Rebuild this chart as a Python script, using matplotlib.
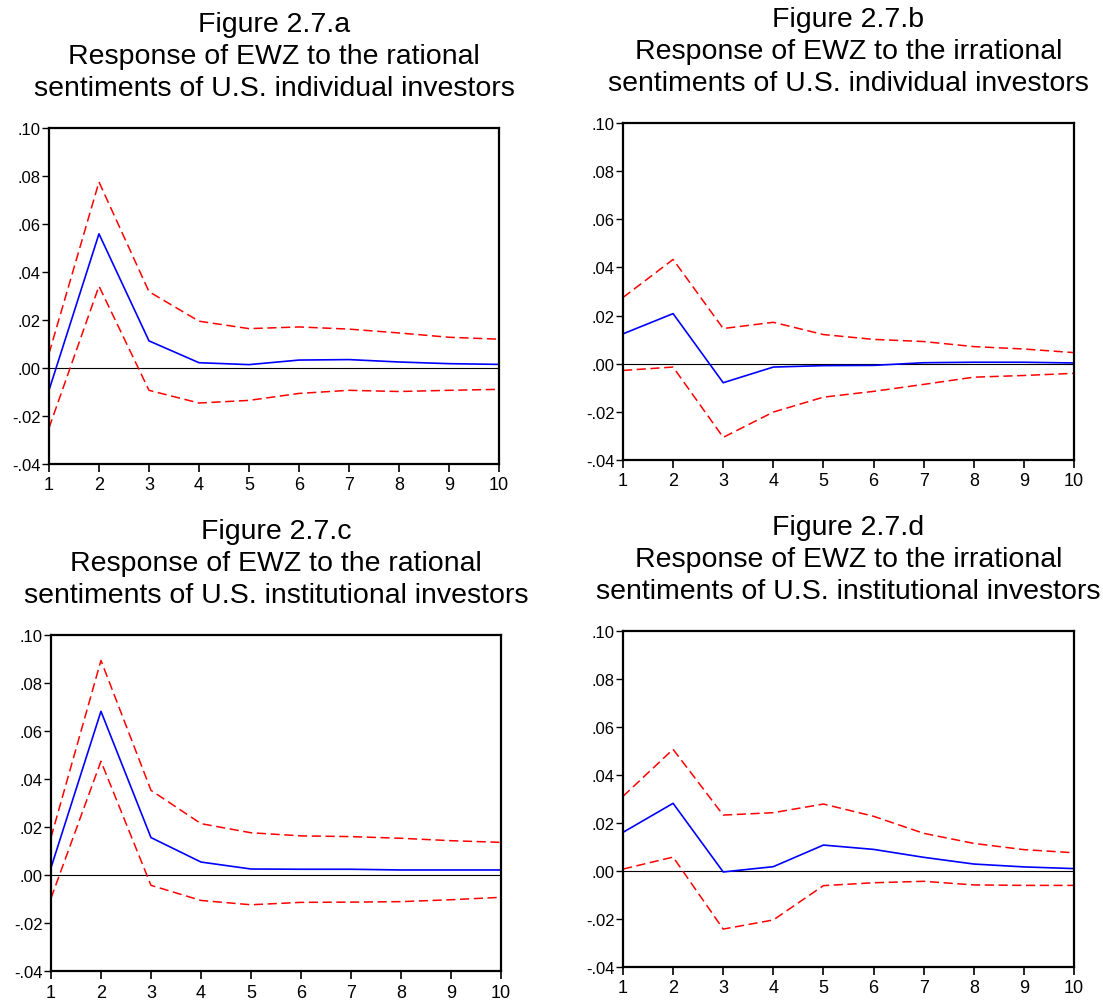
import numpy as np
import matplotlib
matplotlib.use("Agg")
import matplotlib.pyplot as plt

plt.rcParams['font.family'] = ['Liberation Sans', 'DejaVu Sans']

periods = np.arange(1, 11)

# Figure 2.7.a  - rational sentiments, individual investors
resp_a  = [-0.0093, 0.0559, 0.0113, 0.0022, 0.0014, 0.0033, 0.0035, 0.0025, 0.0018, 0.0015]
upper_a = [0.0060, 0.0775, 0.0318, 0.0195, 0.0164, 0.0171, 0.0162, 0.0146, 0.0128, 0.0120]
lower_a = [-0.0250, 0.0341, -0.0093, -0.0146, -0.0135, -0.0106, -0.0093, -0.0098, -0.0093, -0.0089]

# Figure 2.7.b  - irrational sentiments, individual investors
resp_b  = [0.0124, 0.0208, -0.0079, -0.0014, -0.0008, -0.0007, 0.0004, 0.0006, 0.0006, 0.0003]
upper_b = [0.0275, 0.0433, 0.0146, 0.0172, 0.0121, 0.0101, 0.0092, 0.0071, 0.0061, 0.0046]
lower_b = [-0.0028, -0.0014, -0.0306, -0.0201, -0.0139, -0.0115, -0.0086, -0.0056, -0.0049, -0.0040]

# Figure 2.7.c  - rational sentiments, institutional investors
resp_c  = [0.0030, 0.0682, 0.0156, 0.0054, 0.0025, 0.0024, 0.0024, 0.0021, 0.0021, 0.0021]
upper_c = [0.0156, 0.0894, 0.0353, 0.0214, 0.0176, 0.0163, 0.0160, 0.0153, 0.0143, 0.0136]
lower_c = [-0.0097, 0.0474, -0.0043, -0.0106, -0.0124, -0.0114, -0.0113, -0.0111, -0.0103, -0.0093]

# Figure 2.7.d  - irrational sentiments, institutional investors
resp_d  = [0.0161, 0.0282, -0.0004, 0.0018, 0.0108, 0.0090, 0.0057, 0.0029, 0.0017, 0.0010]
upper_d = [0.0311, 0.0507, 0.0233, 0.0243, 0.0279, 0.0228, 0.0157, 0.0115, 0.0089, 0.0076]
lower_d = [0.0008, 0.0058, -0.0242, -0.0204, -0.0061, -0.0049, -0.0043, -0.0058, -0.0060, -0.0060]

titles = [
    "Figure 2.7.a\nResponse of EWZ to the rational\nsentiments of U.S. individual investors",
    "Figure 2.7.b\nResponse of EWZ to the irrational\nsentiments of U.S. individual investors",
    "Figure 2.7.c\nResponse of EWZ to the rational\nsentiments of U.S. institutional investors",
    "Figure 2.7.d\nResponse of EWZ to the irrational\nsentiments of U.S. institutional investors",
]

yticks = [-0.04, -0.02, 0.00, 0.02, 0.04, 0.06, 0.08, 0.10]
ytick_labels = ["-.04", "-.02", ".00", ".02", ".04", ".06", ".08", ".10"]

# axes boxes in figure fraction (left, bottom, width, height)
boxes = [
    [0.0444, 0.5364, 0.4080, 0.3350],
    [0.5648, 0.5404, 0.4089, 0.3360],
    [0.0462, 0.0309, 0.4080, 0.3350],
    [0.5648, 0.0349, 0.4089, 0.3350],
]

series = [
    (resp_a, upper_a, lower_a),
    (resp_b, upper_b, lower_b),
    (resp_c, upper_c, lower_c),
    (resp_d, upper_d, lower_d),
]

fig = plt.figure(figsize=(11.03, 10.03), dpi=100)

for box, (resp, upper, lower), title in zip(boxes, series, titles):
    ax = fig.add_axes(box)
    ax.axhline(0, color='black', lw=0.8)
    ax.plot(periods, upper, color='#ff0000', lw=1.1, dashes=(6, 3))
    ax.plot(periods, lower, color='#ff0000', lw=1.1, dashes=(6, 3))
    ax.plot(periods, resp, color='#0000ff', lw=1.2)
    ax.set_xlim(1, 10)
    ax.set_ylim(-0.04, 0.10)
    ax.set_xticks(periods)
    ax.set_yticks(yticks)
    ax.set_yticklabels(ytick_labels)
    ax.tick_params(axis='x', direction='out', length=6, width=1.2, labelsize=13, pad=3)
    ax.tick_params(axis='y', direction='out', length=5, width=1, labelsize=12, pad=1)
    for s in ax.spines.values():
        s.set_linewidth(1.6)
    ax.set_title(title, fontsize=20.5, linespacing=1.3, pad=23.5)

fig.savefig("out.png", dpi=100)
